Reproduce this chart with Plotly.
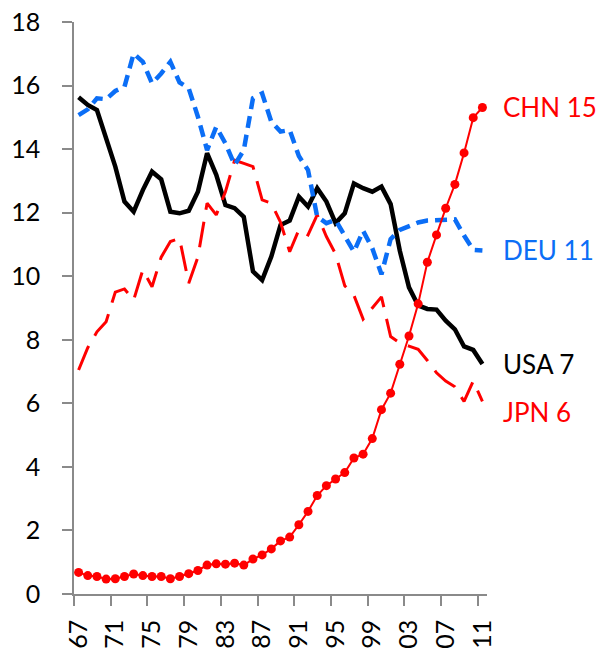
import plotly.graph_objects as go

# ---- data -------------------------------------------------------------
years = list(range(1967, 2012))

usa = [15.63, 15.39, 15.23, 14.39, 13.45, 12.35, 12.03, 12.71, 13.29, 13.05, 12.03, 11.98,
       12.06, 12.66, 13.87, 13.19, 12.24, 12.14, 11.87, 10.15, 9.88, 10.62, 11.61, 11.75,
       12.50, 12.19, 12.77, 12.35, 11.67, 11.98, 12.92, 12.77, 12.66, 12.82, 12.27,
       10.80, 9.65, 9.08, 8.97, 8.95, 8.60, 8.33, 7.79, 7.68, 7.24]

deu = [15.07, 15.25, 15.60, 15.57, 15.83, 15.96, 17.01, 16.75, 16.07, 16.38, 16.75, 16.10,
       15.91, 15.02, 13.97, 14.70, 14.18, 13.50, 13.97, 15.60, 15.75, 14.86, 14.55, 14.60,
       13.78, 13.34, 11.87, 11.67, 11.77, 11.25, 10.77, 11.43, 10.88, 10.06, 11.17,
       11.46, 11.59, 11.69, 11.75, 11.77, 11.77, 11.79, 11.28, 10.83, 10.81]

jpn = [7.05, 7.75, 8.25, 8.57, 9.50, 9.60, 9.25, 10.20, 9.67, 10.60, 11.09, 11.19,
       9.78, 10.60, 12.30, 11.93, 12.66, 13.65, 13.55, 13.45, 12.40, 12.30, 11.70, 10.77,
       11.46, 11.30, 11.93, 11.25, 10.70, 9.70, 9.40, 8.65, 9.00, 9.35, 8.10,
       7.90, 7.80, 7.70, 7.35, 6.96, 6.70, 6.52, 6.06, 6.70, 6.06]

chn = [0.68, 0.58, 0.55, 0.47, 0.48, 0.55, 0.63, 0.58, 0.55, 0.55, 0.48, 0.55,
       0.64, 0.74, 0.91, 0.95, 0.94, 0.97, 0.91, 1.10, 1.23, 1.42, 1.67, 1.79,
       2.18, 2.60, 3.10, 3.41, 3.62, 3.82, 4.28, 4.40, 4.89, 5.80, 6.32,
       7.23, 8.12, 9.13, 10.44, 11.30, 12.14, 12.89, 13.88, 14.99, 15.31]

tick_years = [1967, 1971, 1975, 1979, 1983, 1987, 1991, 1995, 1999, 2003, 2007, 2011]
tick_labels = ["67", "71", "75", "79", "83", "87", "91", "95", "99", "03", "07", "11"]
y_ticks = [0, 2, 4, 6, 8, 10, 12, 14, 16, 18]

end_labels = ["USA 7", "JPN 6", "DEU 11", "CHN 15"]

# ---- styling ------------------------------------------------------------
FONT = "Lato, 'Open Sans', sans-serif"
AXIS = "#8a8a8a"
RED = "#ff0000"
BLUE = "#0b6ef6"
TICK_SIZE = 25
LABEL_SIZE = 26

fig = go.Figure()

fig.add_trace(go.Scatter(x=years, y=usa, mode="lines", name="USA",
                         line=dict(color="black", width=4.5)))
fig.add_trace(go.Scatter(x=years, y=jpn, mode="lines", name="JPN",
                         line=dict(color=RED, width=3, dash="26px,12px")))
fig.add_trace(go.Scatter(x=years, y=deu, mode="lines", name="DEU",
                         line=dict(color=BLUE, width=4.5, dash="12px,7px")))
fig.add_trace(go.Scatter(x=years, y=chn, mode="lines+markers", name="CHN",
                         line=dict(color=RED, width=2),
                         marker=dict(color=RED, size=9)))

label_info = [
    (end_labels[0], usa[-1], "black", 0),
    (end_labels[1], jpn[-1], RED, -11),
    (end_labels[2], deu[-1], BLUE, 0),
    (end_labels[3], chn[-1], RED, 0),
]
for text, yv, col, ys in label_info:
    fig.add_annotation(x=years[-1], y=yv, xref="x", yref="y", text=text,
                       showarrow=False, xanchor="left", yanchor="middle",
                       xshift=19, yshift=ys,
                       font=dict(family=FONT, size=LABEL_SIZE, color=col))

boundaries = [t - 0.5 for t in tick_years]

fig.update_layout(
    width=603, height=649,
    margin=dict(l=74, r=116, t=22, b=55, autoexpand=False),
    plot_bgcolor="white", paper_bgcolor="white",
    showlegend=False, hovermode=False,
    font=dict(family=FONT, size=TICK_SIZE, color="black"),
)
fig.update_xaxes(
    range=[years[0] - 0.5, years[-1] + 0.5],
    tickmode="array", tickvals=tick_years, ticktext=tick_labels,
    tickangle=-90, ticks="outside", ticklen=10, tickcolor="rgba(0,0,0,0)",
    ticklabelstandoff=4, ticklabeloverflow="allow",
    minor=dict(tickmode="array", tickvals=boundaries, ticks="outside",
               ticklen=10, tickwidth=1.5, tickcolor=AXIS),
    showline=True, linecolor=AXIS, linewidth=1.5,
    showgrid=False, zeroline=False,
    tickfont=dict(family=FONT, size=TICK_SIZE, color="black"),
)
fig.update_yaxes(
    range=[0, 18], tickmode="array", tickvals=y_ticks,
    ticks="outside", ticklen=10, tickwidth=1.5, tickcolor=AXIS,
    ticklabelstandoff=17, ticklabeloverflow="allow",
    showline=True, linecolor=AXIS, linewidth=1.5,
    showgrid=False, zeroline=False,
    tickfont=dict(family=FONT, size=TICK_SIZE, color="black"),
)

# remove the browser's default 8px body margin so the figure fills the window
fig.write_html("out.html",
               config={"displayModeBar": False},
               post_script="document.body.style.margin='0px';")
